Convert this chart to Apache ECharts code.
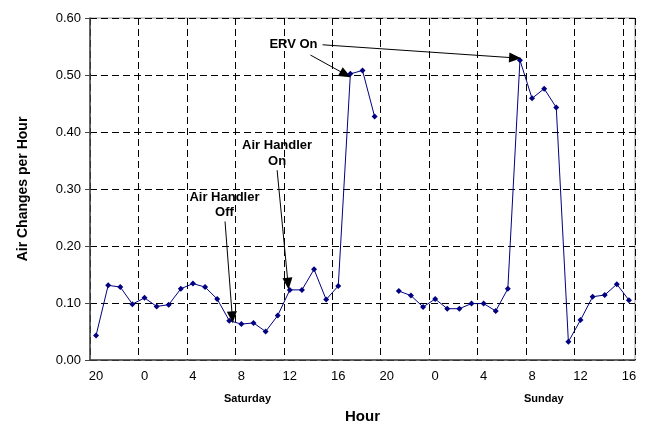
<!DOCTYPE html>
<html lang="en">

<head>
  <meta charset="UTF-8">
  <title>Air Changes per Hour</title>
  <script src="https://cdn.jsdelivr.net/npm/echarts@6/dist/echarts.min.js"></script>
</head>

<body style="margin:0;background:#fff;">
  <div id="main" style="width:649px;height:424px;"></div>

  <script>
    // hour of day for each hourly reading (Fri 20:00 -> Sun 16:00)
    var hours = [
      '20', '21', '22', '23',
      '0', '1', '2', '3', '4', '5', '6', '7', '8', '9', '10', '11',
      '12', '13', '14', '15', '16', '17', '18', '19', '20', '21', '22', '23',
      '0', '1', '2', '3', '4', '5', '6', '7', '8', '9', '10', '11',
      '12', '13', '14', '15', '16'
    ]
    // air changes per hour, null = no reading
    var ach = [
      0.043, 0.131, 0.128, 0.098,
      0.109, 0.094, 0.097, 0.125, 0.134, 0.128, 0.107, 0.069, 0.063, 0.065, 0.050, 0.078,
      0.123, 0.123, 0.159, 0.106, 0.130, 0.502, 0.508, 0.427, null, 0.121, 0.113, 0.093,
      0.107, 0.090, 0.090, 0.099, 0.099, 0.086, 0.125, 0.526, 0.459, 0.476, 0.443, 0.032,
      0.070, 0.111, 0.114, 0.133, 0.105
    ]
    var yTicks = [0, 0.6, 0.1] // min, max, step

    // annotations, x in reading index units, y in ACH
    var notes = [
      { text: 'ERV On', x: 16.3, y: 0.553 },
      { text: 'Air Handler', x: 14.95, y: 0.377 },
      { text: 'On', x: 14.95, y: 0.348 },
      { text: 'Air Handler', x: 10.6, y: 0.286 },
      { text: 'Off', x: 10.6, y: 0.259 }
    ]
    var arrows = [
      [[17.7, 0.535], [20.6, 0.501]],
      [[18.7, 0.553], [34.6, 0.530]],
      [[14.95, 0.333], [15.85, 0.134]],
      [[10.65, 0.243], [11.25, 0.075]]
    ]

    var chart = echarts.init(document.getElementById('main'))
    var dashed = { color: '#000', width: 1, type: [7, 4] }

    var option = {
      animation: false,
      textStyle: { fontFamily: 'Liberation Sans, Arial, sans-serif' },
      grid: {
        left: 90, right: 14, top: 18, bottom: 64,
        outerBoundsMode: 'none',
        show: true, borderColor: '#999', borderWidth: 1
      },
      xAxis: [
        {
          type: 'category',
          data: hours,
          boundaryGap: true,
          name: 'Hour',
          nameLocation: 'middle',
          nameGap: 49,
          nameTextStyle: { fontSize: 15, fontWeight: 'bold', color: '#000' },
          axisLine: { lineStyle: { color: '#444', width: 1.5 } },
          axisTick: { interval: 3, length: 5, lineStyle: { color: '#444' } },
          axisLabel: { interval: 3, fontSize: 13, color: '#000', margin: 10 },
          splitLine: { show: true, interval: 3, lineStyle: dashed }
        },
        {
          // hidden helper axis for the annotation arrows
          type: 'value',
          min: -0.5,
          max: hours.length - 0.5,
          show: false
        }
      ],
      yAxis: {
        type: 'value',
        min: yTicks[0],
        max: yTicks[1],
        interval: yTicks[2],
        name: 'Air Changes per Hour',
        nameLocation: 'middle',
        nameGap: 60,
        nameTextStyle: { fontSize: 14, fontWeight: 'bold', color: '#000' },
        axisLine: { show: true, onZero: false, lineStyle: { color: '#444', width: 1.5 } },
        axisTick: { show: true, length: 5, lineStyle: { color: '#444' } },
        axisLabel: { fontSize: 13, color: '#000', margin: 9, formatter: function (v) { return v.toFixed(2) } },
        splitLine: { show: true, lineStyle: dashed }
      },
      series: [
        {
          type: 'line',
          data: ach,
          connectNulls: false,
          symbol: 'diamond',
          symbolSize: 6,
          lineStyle: { color: '#000080', width: 1 },
          itemStyle: { color: '#000080' },
          z: 3
        },
        {
          type: 'line',
          xAxisIndex: 1,
          data: [],
          silent: true,
          markLine: {
            silent: true,
            symbol: ['none', 'triangle'],
            symbolSize: [10, 12],
            label: { show: false },
            lineStyle: { color: '#000', width: 1, type: 'solid' },
            itemStyle: { color: '#000' },
            data: arrows.map(function (a) { return [{ coord: a[0] }, { coord: a[1] }] })
          },
          z: 5
        }
      ],
      graphic: [
        { type: 'text', left: 224, top: 393, style: { text: 'Saturday', font: 'bold 11px Liberation Sans', fill: '#000' } },
        { type: 'text', left: 524, top: 393, style: { text: 'Sunday', font: 'bold 11px Liberation Sans', fill: '#000' } }
      ]
    }
    chart.setOption(option)

    // annotation text placed through the helper axis
    var noteGraphics = notes.map(function (n) {
      var p = chart.convertToPixel({ xAxisIndex: 1, yAxisIndex: 0 }, [n.x, n.y])
      return {
        type: 'text',
        x: p[0],
        y: p[1],
        z: 100,
        style: {
          text: n.text,
          font: 'bold 13px Liberation Sans',
          fill: '#000',
          align: 'center',
          verticalAlign: 'middle'
        }
      }
    })
    chart.setOption({ graphic: option.graphic.concat(noteGraphics) })
  </script>
</body>

</html>
